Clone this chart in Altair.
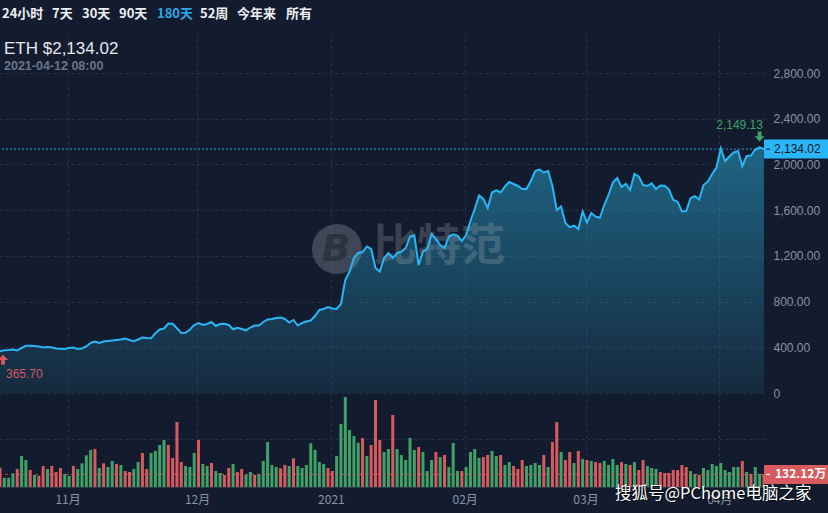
import altair as alt
import pandas as pd
from datetime import datetime, timedelta, timezone

# ---------------- data ----------------
SYMBOL = "ETH"
LAST_TIME = "2021-04-12 08:00"
VOLUME_UNIT = "万"
PERIODS = ["24小时", "7天", "30天", "90天", "180天", "52周", "今年来", "所有"]
ACTIVE_PERIOD = "180天"
PRICE_TICKS = [-400, 0, 400, 800, 1200, 1600, 2000, 2400, 2800]
MONTH_TICKS = [(2020, 11), (2020, 12), (2021, 1), (2021, 2), (2021, 3), (2021, 4)]

PRICE = [
    365.70, 373.6, 376.3, 380.6, 371.9, 393.8, 413.9, 413.9, 411.0, 406.9,
    398.1, 402.5, 398.1, 389.4, 387.6, 385.0, 393.8, 398.1, 385.0, 389.4,
    406.9, 437.5, 450.6, 437.5, 450.6, 455.0, 459.4, 463.8, 468.1, 476.9,
    463.8, 452.4, 468.1, 485.6, 481.3, 478.6, 522.4, 555.6, 564.4, 608.1,
    606.4, 566.1, 525.0, 527.6, 555.6, 595.0, 612.5, 595.0, 603.8, 621.3,
    586.3, 603.8, 606.4, 595.0, 557.4, 571.4, 560.0, 548.6, 573.1, 590.6,
    590.6, 621.3, 643.1, 647.5, 656.3, 660.6, 647.5, 616.9, 638.8, 590.6,
    612.5, 625.6, 634.4, 673.8, 726.3, 735.0, 752.5, 739.4, 735.0, 778.8,
    988.8, 1063.1, 1181.3, 1225.0, 1233.8, 1281.9, 1260.0, 1093.8, 1063.1, 1181.3,
    1225.0, 1181.3, 1225.0, 1236.4, 1268.8, 1369.4, 1378.1, 1120.0, 1238.1, 1260.0,
    1391.3, 1347.5, 1295.0, 1268.8, 1369.4, 1388.6, 1378.1, 1330.0, 1382.5, 1505.0,
    1610.0, 1728.1, 1697.5, 1618.8, 1754.4, 1773.6, 1754.4, 1806.9, 1846.3, 1828.8,
    1811.3, 1785.0, 1785.0, 1855.0, 1942.5, 1955.6, 1929.4, 1942.5, 1811.3, 1601.3,
    1631.9, 1487.5, 1450.8, 1463.9, 1435.0, 1588.1, 1491.9, 1575.0, 1543.5, 1533.9,
    1645.0, 1732.5, 1841.9, 1881.3, 1802.5, 1828.8, 1776.3, 1916.3, 1894.4, 1820.0,
    1811.3, 1834.9, 1785.0, 1815.6, 1813.9, 1780.6, 1688.8, 1673.9, 1588.1, 1592.5,
    1703.6, 1722.0, 1693.1, 1820.0, 1848.9, 1916.3, 1973.1, 2140.0, 2030.0, 2069.4,
    2104.4, 2117.5, 1986.3, 2073.8, 2078.1, 2130.6, 2149.13, 2134.02,
]

# volume in 万
VOLUME = [
    202.7, 97.7, 97.7, 143.9, 189.0, 325.5, 283.5, 178.5, 126.0, 118.7,
    220.5, 189.0, 220.5, 157.5, 199.5, 136.5, 118.7, 220.5, 189.0, 248.9,
    332.9, 388.5, 399.0, 199.5, 248.9, 210.0, 273.0, 241.5, 231.0, 168.0,
    157.5, 189.0, 262.5, 357.0, 189.0, 357.0, 378.0, 441.0, 493.5, 441.0,
    304.5, 682.5, 262.5, 220.5, 210.0, 357.0, 493.5, 241.5, 220.5, 252.0,
    168.0, 147.0, 126.0, 199.5, 241.5, 157.5, 189.0, 126.0, 157.5, 126.0,
    136.5, 273.0, 472.5, 231.0, 210.0, 196.0, 231.0, 220.5, 301.0, 220.5,
    199.5, 231.0, 459.0, 388.5, 262.5, 241.5, 199.5, 168.0, 325.5, 661.5,
    945.0, 598.5, 535.5, 465.0, 514.5, 325.5, 441.0, 913.5, 493.5, 367.5,
    399.0, 756.0, 399.0, 336.0, 283.5, 514.5, 388.5, 420.0, 367.5, 168.0,
    283.5, 367.5, 315.0, 336.0, 210.0, 462.0, 168.0, 168.0, 210.0, 367.5,
    399.0, 304.5, 315.0, 336.0, 378.0, 325.5, 336.0, 231.0, 262.5, 220.5,
    189.0, 283.5, 220.5, 231.0, 252.0, 231.0, 336.0, 210.0, 472.5, 682.5,
    367.5, 283.5, 367.5, 252.0, 378.0, 294.0, 283.5, 273.0, 262.5, 252.0,
    273.0, 231.0, 294.0, 231.0, 262.5, 241.5, 231.0, 262.5, 178.5, 283.5,
    220.5, 199.5, 189.0, 157.5, 147.0, 147.0, 178.5, 178.5, 231.0, 210.0,
    168.0, 136.5, 126.0, 199.5, 178.5, 241.5, 220.5, 252.0, 178.5, 157.5,
    210.0, 210.0, 273.0, 157.5, 136.5, 210.0, 136.5, 132.12,
]

# u = up (green), d = down (red)
DIRECTION = list(
    "duuudduudu" "dudddduudu" "uududuudud" "duudduuuud" "ddduuuduud"
    "uuddudduud" "uuuuuddudu" "uuuuuudduu" "uuuudududu"[:0]
    + "uuuududddu" "uduuuuuduu"
    + "udududuudu"[:0]
    + "uduuuuuduu"[:0]
    + "udududuuduu"[:0]
)
DIRECTION = list(
    "dgggdggdgd" "dgdddggdgg" "ggdgdggdgd" "dggddggggd" "dddgggdggd"
    "ggddgddggd" "gggggddgdg" "ggggggddgg" "ggggdgdddg" "gdgggggdgg"
    "gdgdgggdgg" "ggddggdggd" "ddggggdgdd" "gddgdgdgdd" "ggggdgdgdd"
    "gggddddddd" "ggdggggggg" "ggdgdggd"
)

start = datetime(2020, 10, 16, 8)
dates = [(start + timedelta(days=i)).strftime("%Y-%m-%dT%H:%M:%SZ") for i in range(len(PRICE))]
df = pd.DataFrame({
    "date": dates,
    "price": PRICE,
    "volume": VOLUME,
    "dir": ["down" if c == "d" else "up" for c in DIRECTION],
})
last = df.iloc[[-1]].reset_index(drop=True)


def utc_ms(y, m, d, h=0, mi=0):
    return int(datetime(y, m, d, h, mi, tzinfo=timezone.utc).timestamp() * 1000)


# ---------------- style ----------------
BG = "#131c2f"
GRID = "#27334b"
LABEL = "#8a92a3"
LINE = "#29b6f6"
GREEN = "#3fa267"
RED = "#d85a5f"
W, H = 764, 454
CJK = "Noto Sans CJK SC"
LATIN = "Liberation Sans"

xscale = alt.Scale(type="utc", domain=[utc_ms(2020, 10, 16, 8), utc_ms(2021, 4, 11, 8, 30)],
                   padding=0, nice=False)
pscale = alt.Scale(domain=[-822.5, 3150], nice=False, zero=False, padding=0)
vscale = alt.Scale(domain=[0, 4767], nice=False, padding=0)

X = alt.X("date:T", scale=xscale, axis=None, title=None)
PY = alt.Y("price:Q", scale=pscale, axis=None, title=None)
VY = alt.Y("volume:Q", scale=vscale, axis=None, title=None)

base = alt.Chart(df)

# axes + grid (invisible marks)
axes_layer = base.mark_line(opacity=0).encode(
    x=alt.X("date:T", scale=xscale, title=None, axis=alt.Axis(
        values=[utc_ms(y, m, 1) for y, m in MONTH_TICKS],
        labelExpr="utcFormat(datum.value, '%m') == '01' ? utcFormat(datum.value, '%Y') : utcFormat(datum.value, '%m') + '月'",
        grid=True, gridColor=GRID, gridDash=[3, 3], gridWidth=1,
        domain=True, domainColor="#2d3850", domainWidth=1,
        ticks=False, labelColor=LABEL, labelFont=CJK, labelFontSize=12,
        labelPadding=7, labelBaseline="top", labelFlush=False, labelOverlap=False)),
    y=alt.Y("price:Q", scale=pscale, title=None, axis=alt.Axis(
        orient="right", values=PRICE_TICKS,
        labelExpr="datum.value < 0 ? '' : (datum.value == 0 ? '0' : format(datum.value, ',.2f'))",
        grid=True, gridColor=GRID, gridDash=[3, 3], gridWidth=1,
        domain=False, ticks=False, labelColor=LABEL, labelFont=LATIN,
        labelFontSize=12, labelPadding=9, labelAlign="left", labelBaseline="middle")),
)

area = base.mark_area(
    line=False,
    color=alt.Gradient(
        gradient="linear", x1=0, x2=0, y1=0, y2=1,
        stops=[alt.GradientStop(color="rgba(40,160,200,0.55)", offset=0),
               alt.GradientStop(color="rgba(40,160,200,0.10)", offset=1)],
    ),
).encode(x=X, y=PY, y2=alt.value(H))

one = pd.DataFrame({"t": [""]})
wm_circle = alt.Chart(one).mark_point(
    shape="circle", filled=True, size=2500, color="#9aa0a8", opacity=0.33
).encode(x=alt.value(337), y=alt.value(216))
wm_b = alt.Chart(pd.DataFrame({"t": ["B"]})).mark_text(
    fontSize=38, fontWeight="bold", fontStyle="italic", font="DejaVu Sans",
    color="#1c2433", opacity=0.55, align="center", baseline="middle"
).encode(x=alt.value(336), y=alt.value(217), text="t:N")
wm_text = alt.Chart(pd.DataFrame({"t": ["比特范"]})).mark_text(
    fontSize=44, fontWeight="bold", font=CJK, color="#a0a6ad", opacity=0.28,
    align="left", baseline="middle"
).encode(x=alt.value(373), y=alt.value(215), text="t:N")

bars = base.mark_bar(width=3, clip=True).encode(
    x=X, y=VY,
    color=alt.Color("dir:N", scale=alt.Scale(domain=["up", "down"], range=[GREEN, RED]), legend=None),
)

vol_rule = alt.Chart(last).mark_rule(color=RED, strokeDash=[3, 3], strokeWidth=1, opacity=0.8).encode(y=VY)
price_rule = alt.Chart(last).mark_rule(color=LINE, strokeDash=[2, 2], strokeWidth=1, opacity=0.85).encode(y=PY)

line = base.mark_line(color=LINE, strokeWidth=2).encode(x=X, y=PY)

# max / min annotations
mx = base.transform_joinaggregate(m="max(price)").transform_filter("datum.price == datum.m")
mn = base.transform_joinaggregate(m="min(price)").transform_filter("datum.price == datum.m")
DOWN_ARROW = "M-0.38,-1 L0.38,-1 L0.38,-0.05 L1,-0.05 L0,1 L-1,-0.05 L-0.38,-0.05 Z"
UP_ARROW = "M-0.38,1 L0.38,1 L0.38,0.05 L1,0.05 L0,-1 L-1,0.05 L-0.38,0.05 Z"
max_arrow = mx.mark_point(shape=DOWN_ARROW, filled=True, size=100, color=GREEN, opacity=1, yOffset=-11).encode(x=X, y=PY)
max_text = mx.mark_text(color=GREEN, font=LATIN, fontSize=12, align="center", baseline="middle", dx=-20, dy=-22).encode(
    x=X, y=PY, text=alt.Text("price:Q", format=",.2f"))
min_arrow = mn.mark_point(shape=UP_ARROW, filled=True, size=100, color=RED, opacity=1, xOffset=3, yOffset=8.5).encode(x=X, y=PY)
min_text = mn.mark_text(color=RED, font=LATIN, fontSize=12, align="left", baseline="middle", dx=6, dy=23).encode(
    x=X, y=PY, text=alt.Text("price:Q", format=",.2f"))

# right-side value boxes
pbox = alt.Chart(last).mark_rect(color=LINE, yOffset=-9.5, y2Offset=9.5).encode(
    x=alt.value(W), x2=alt.value(828), y=PY, y2=alt.Y2("price:Q"))
ptick = alt.Chart(last).mark_rule(color="#0d1524", strokeWidth=1).encode(
    x=alt.value(W + 2), x2=alt.value(W + 6), y=PY)
ptext = alt.Chart(last).mark_text(color="#0d1524", font=LATIN, fontSize=12, align="left", baseline="middle").encode(
    x=alt.value(W + 10), y=PY, text=alt.Text("price:Q", format=",.2f"))

vbox = alt.Chart(last).mark_rect(color=RED, yOffset=-9.5, y2Offset=9.5).encode(
    x=alt.value(W), x2=alt.value(828), y=VY, y2=alt.Y2("volume:Q"))
vtick = alt.Chart(last).mark_rule(color="#ffffff", strokeWidth=1).encode(
    x=alt.value(W + 2), x2=alt.value(W + 6), y=VY)
vtext = alt.Chart(last).transform_calculate(
    lbl=f"format(datum.volume, '.2f') + '{VOLUME_UNIT}'"
).mark_text(color="#ffffff", font=CJK, fontSize=12, fontWeight="bold", align="left", baseline="middle").encode(
    x=alt.value(W + 11), y=VY, text="lbl:N")


def label(text, x, y, **kw):
    return alt.Chart(pd.DataFrame({"t": [text]})).mark_text(
        align="left", baseline="middle", **kw).encode(x=alt.value(x), y=alt.value(y), text="t:N")


MENU_X = [2, 52, 82, 119, 157, 200, 237, 286]
menu = [label(p, x, -19, font=CJK, fontSize=13, fontWeight="bold",
              color=("#2aa9ea" if p == ACTIVE_PERIOD else "#eef0f3"))
        for p, x in zip(PERIODS, MENU_X)]

title_txt = label(f"{SYMBOL} ${PRICE[-1]:,.2f}", 4, 15.5, font=LATIN, fontSize=17, color="#e4e7ec")
time_txt = label(LAST_TIME, 4, 33, font=LATIN, fontSize=12.5, fontWeight="bold", color="#6c7488")

sohu_shadow = label("搜狐号@PChome电脑之家", 616, 461.5, font=CJK, fontSize=16.5, color="#000000", opacity=0.9)
sohu = label("搜狐号@PChome电脑之家", 615, 460.5, font=CJK, fontSize=16.5, color="#ffffff")

chart = alt.layer(
    axes_layer, area, wm_circle, wm_b, wm_text, bars, vol_rule, price_rule, line,
    max_arrow, max_text, min_arrow, min_text,
    pbox, ptick, ptext, vbox, vtick, vtext,
    *menu, title_txt, time_txt, sohu_shadow, sohu,
).resolve_scale(y="independent").resolve_axis(x="independent").properties(
    width=W, height=H,
    autosize=alt.AutoSizeParams(type="none"),
    padding={"left": 0, "top": 33, "right": 64, "bottom": 26},
).configure(background=BG).configure_view(stroke=None)

chart.save("out.html", embed_options={"renderer": "svg", "actions": False})
